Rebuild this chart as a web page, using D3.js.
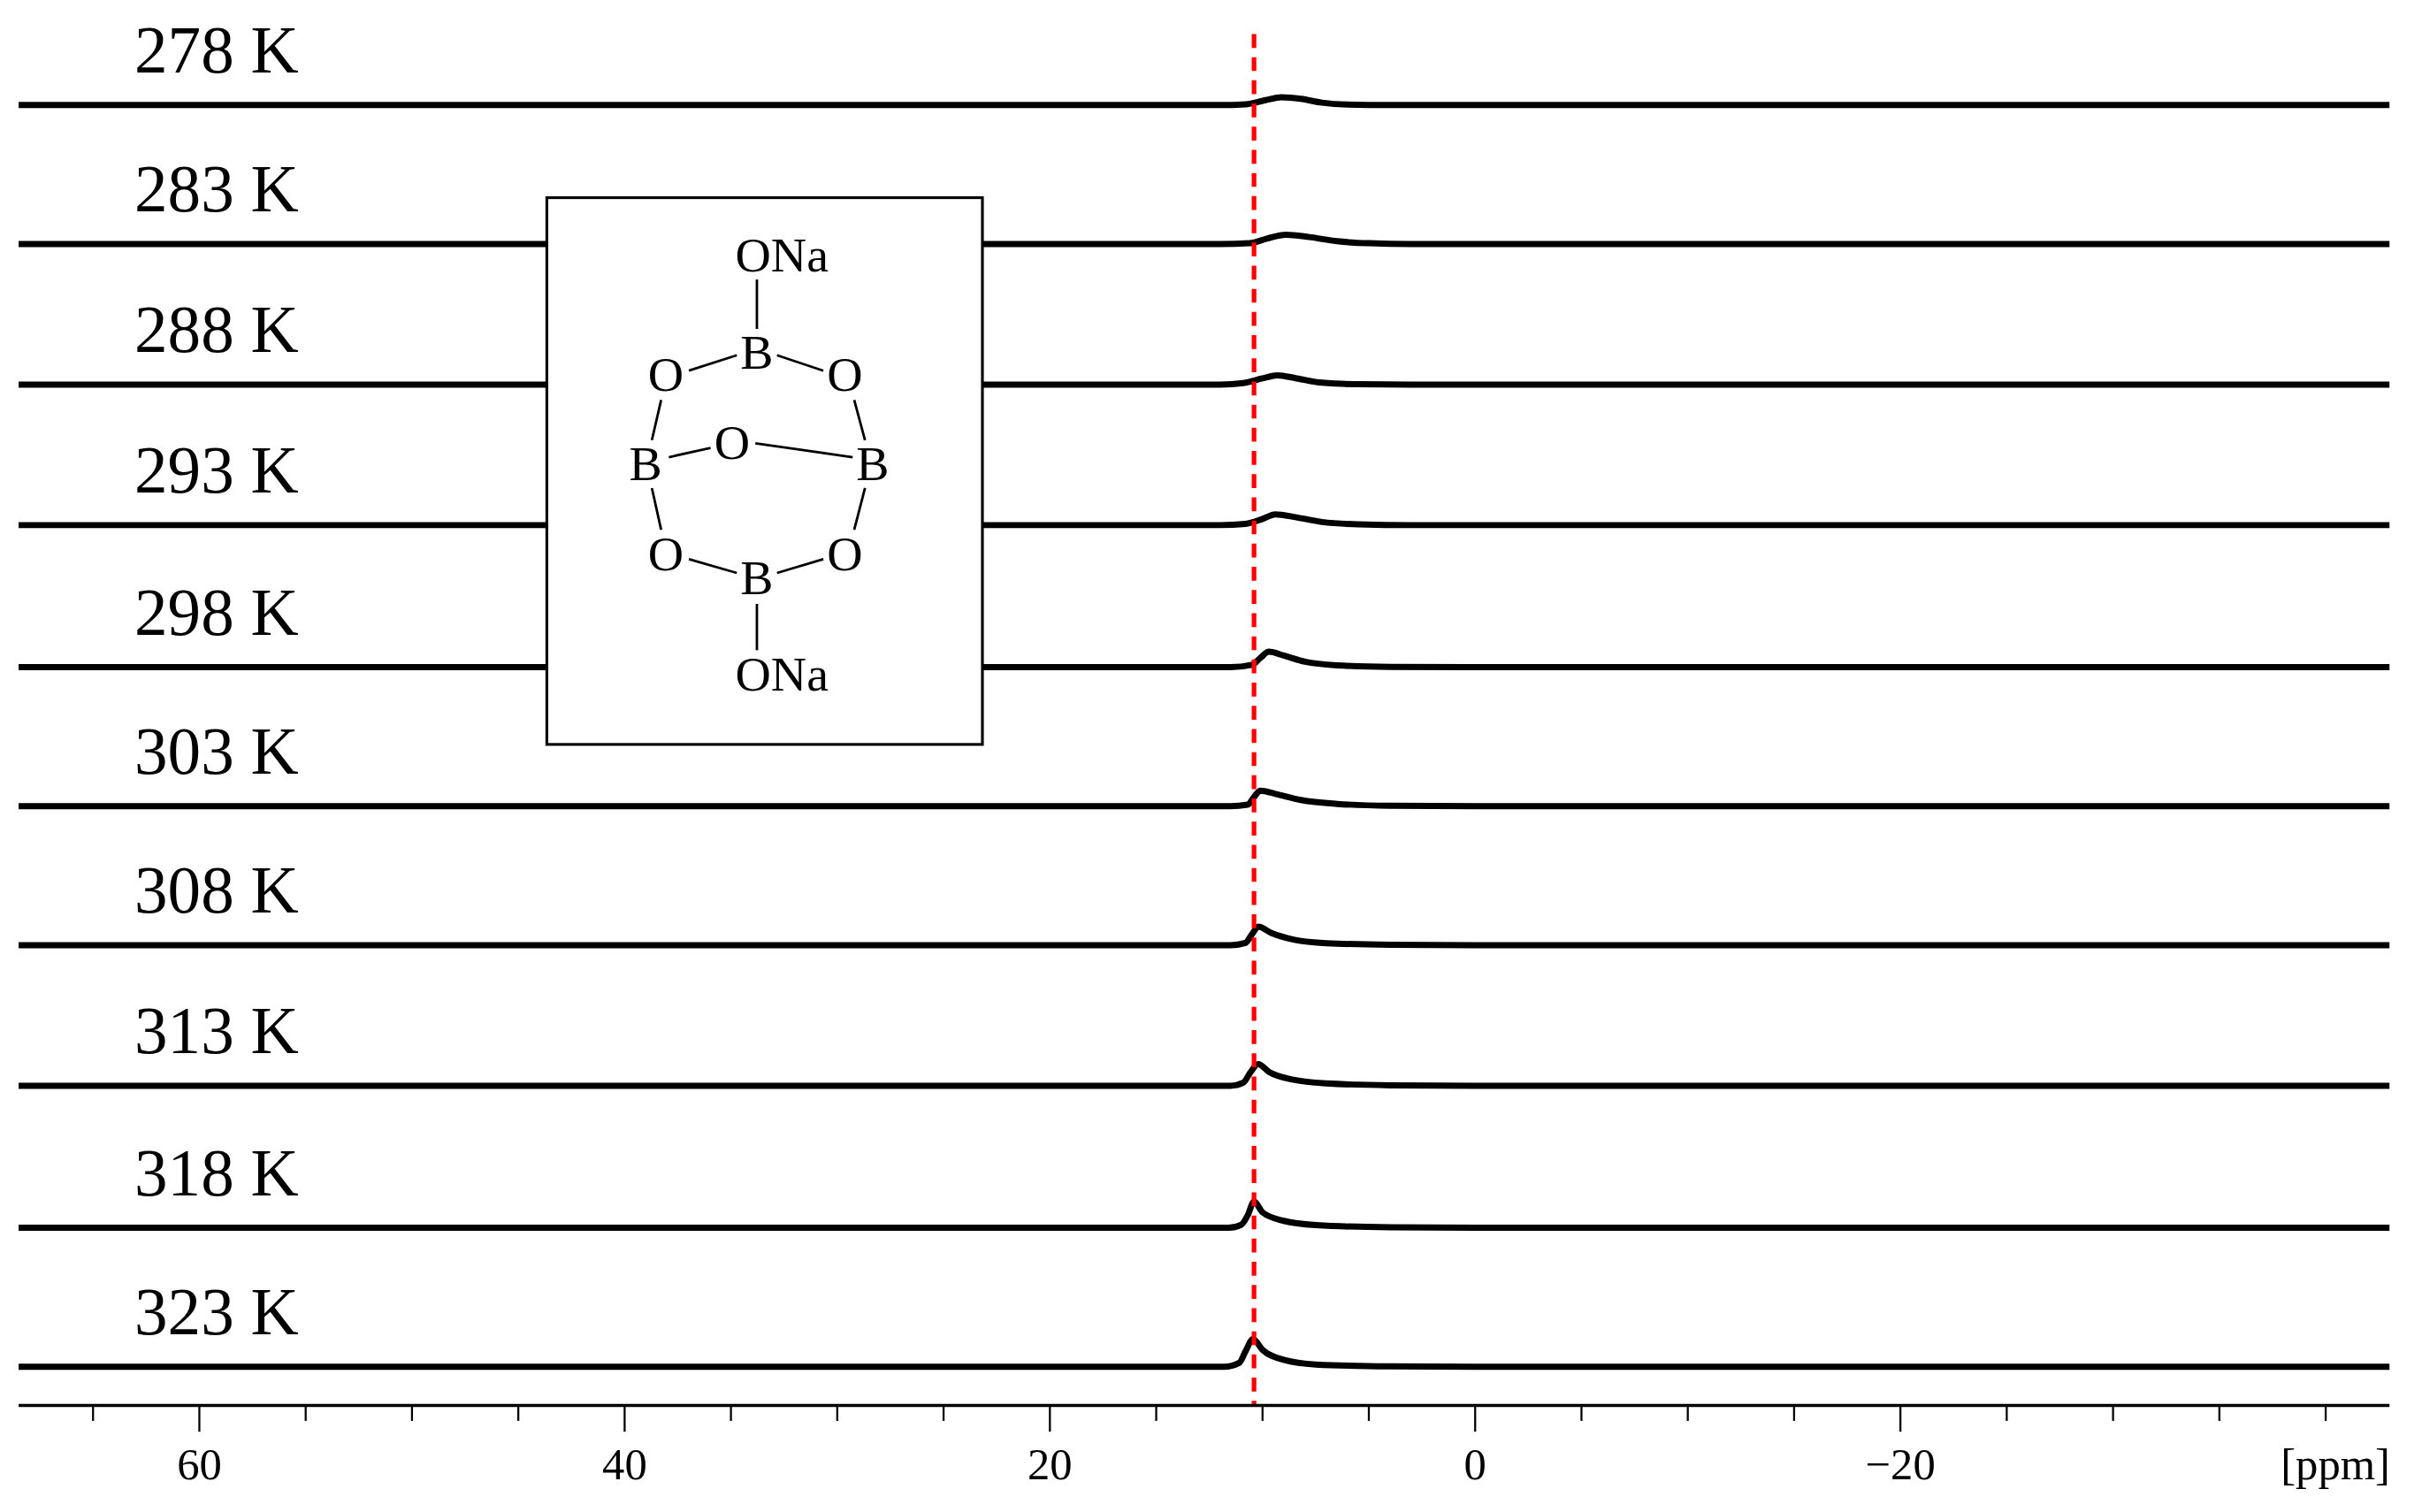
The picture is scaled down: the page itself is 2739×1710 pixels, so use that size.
<!DOCTYPE html>
<html>
<head>
<meta charset="utf-8">
<script src="https://cdn.jsdelivr.net/npm/d3@7"></script>
<style>
  body { margin: 0; background: #fff; }
  text { font-family: "Liberation Serif", "Times New Roman", serif; }
</style>
</head>
<body>
<svg id="chart"></svg>
<script>
// temperatures, top to bottom
var temps = ["278 K", "283 K", "288 K", "293 K", "298 K", "303 K", "308 K", "313 K", "318 K", "323 K"];

// each trace: [ppm, intensity] points (baseline + peak)
var trace278 = [[68.5, 0], [12, 0], [10.8, 0.5], [9.9, 3], [9.1, 5], [8.2, 4], [7.2, 1.5], [6, 0.3], [4, 0], [-43, 0]];
var trace283 = [[68.5, 0], [12, 0], [10.6, 0.5], [9.8, 3.5], [8.9, 6], [7.8, 4.5], [6.5, 1.8], [5, 0.5], [3, 0], [-43, 0]];
var trace288 = [[68.5, 0], [12, 0], [10.9, 1], [10, 4], [9.3, 6], [8.4, 4], [7.2, 1.2], [5.5, 0.2], [3, 0], [-43, 0]];
var trace293 = [[68.5, 0], [12, 0], [10.8, 0.8], [10, 4], [9.4, 7], [8.4, 5], [7.2, 2], [5.5, 0.5], [3, 0], [-43, 0]];
var trace298 = [[68.5, 0], [11.5, 0], [10.5, 1.5], [10.1, 6], [9.7, 10], [9, 7.5], [8, 3.5], [6.5, 1.2], [4, 0.2], [0, 0], [-43, 0]];
var trace303 = [[68.5, 0], [11.5, 0], [10.7, 1], [10.4, 6], [10.1, 10], [9.4, 8], [8.2, 4], [6.5, 1.5], [4, 0.3], [0, 0], [-43, 0]];
var trace308 = [[68.5, 0], [11.5, 0], [10.8, 1.5], [10.5, 7], [10.2, 12], [9.6, 8], [8.5, 3.5], [7, 1.3], [4, 0.3], [0, 0], [-43, 0]];
var trace313 = [[68.5, 0], [11.5, 0], [10.9, 2], [10.6, 8], [10.2, 14], [9.7, 9], [8.6, 4], [7, 1.5], [4, 0.3], [0, 0], [-43, 0]];
var trace318 = [[68.5, 0], [11.6, 0], [11, 2], [10.7, 8], [10.4, 17], [10, 10], [9, 4.5], [7.5, 1.8], [4, 0.3], [0, 0], [-43, 0]];
var trace323 = [[68.5, 0], [11.8, 0], [11.1, 2.5], [10.8, 10], [10.45, 18], [10, 11], [9, 4.5], [7.5, 1.5], [4, 0.3], [0, 0], [-43, 0]];
var traces = [trace278, trace283, trace288, trace293, trace298, trace303, trace308, trace313, trace318, trace323];

var majorTicks = [60, 40, 20, 0, -20];
var minorTicks = [65, 55, 50, 45, 35, 30, 25, 15, 10, 5, -5, -10, -15, -25, -30, -35, -40];
var refShift = 10.4;

var W = 1568, H = 979;
var svg = d3.select("#chart")
  .attr("width", 2739).attr("height", 1710)
  .attr("viewBox", "0 0 " + W + " " + H);

var x = d3.scaleLinear().domain([68.5, -43]).range([12, 1547]);
var baselines = [68, 158, 249, 340, 432, 522, 612, 703, 795, 885];
var yInt = d3.scaleLinear().domain([0, 10]).range([0, 10]);

var line = d3.line()
  .x(function (d) { return x(d[0]); })
  .curve(d3.curveMonotoneX);

// spectra
for (var i = 0; i < traces.length; i++) {
  var base = baselines[i];
  line.y(function (d) { return base - yInt(d[1]); });
  svg.append("path")
    .attr("d", line(traces[i]))
    .attr("fill", "none")
    .attr("stroke", "#000")
    .attr("stroke-width", 4)
    .attr("stroke-linejoin", "round");
  svg.append("text")
    .attr("x", 87).attr("y", base - 21)
    .attr("font-size", 43)
    .text(temps[i]);
}

// inset with structure
var inset = svg.append("g");
inset.append("rect")
  .attr("x", 354).attr("y", 128).attr("width", 282).attr("height", 354)
  .attr("fill", "#fff").attr("stroke", "#000").attr("stroke-width", 1.8);

var atoms = [["ONa", 476, 176, "start"], ["B", 490, 239, "middle"], ["O", 431, 253, "middle"], ["O", 547, 253, "middle"],
  ["B", 418, 311, "middle"], ["O", 474, 297, "middle"], ["B", 565, 311, "middle"],
  ["O", 431, 369, "middle"], ["O", 547, 369, "middle"], ["B", 490, 385, "middle"], ["ONa", 476, 447, "start"]];
atoms.forEach(function (a) {
  inset.append("text").attr("x", a[1]).attr("y", a[2]).attr("text-anchor", a[3])
    .attr("font-size", 32).text(a[0]);
});
var bonds = [[490, 181, 490, 213], [446, 240, 477, 230], [503, 230, 533, 240], [428, 259, 422, 285],
  [553, 259, 560, 285], [433, 296, 460, 290], [489, 287, 552, 296], [422, 316, 428, 343],
  [560, 316, 553, 343], [446, 362, 477, 371], [503, 371, 533, 362], [490, 391, 490, 421]];
bonds.forEach(function (b) {
  inset.append("line").attr("x1", b[0]).attr("y1", b[1]).attr("x2", b[2]).attr("y2", b[3])
    .attr("stroke", "#000").attr("stroke-width", 1.6);
});

// reference line
svg.append("line")
  .attr("x1", x(refShift)).attr("x2", x(refShift))
  .attr("y1", 22).attr("y2", 910)
  .attr("stroke", "#ff0000").attr("stroke-width", 3)
  .attr("stroke-dasharray", "9,6");

// axis
var axis = svg.append("g").attr("transform", "translate(0,910)");
axis.append("line").attr("x1", 12).attr("x2", 1547).attr("stroke", "#000").attr("stroke-width", 2);
axis.selectAll(".major").data(majorTicks).enter().append("line")
  .attr("x1", function (d) { return x(d); }).attr("x2", function (d) { return x(d); })
  .attr("y1", 0).attr("y2", 17).attr("stroke", "#000").attr("stroke-width", 1.3);
axis.selectAll(".minor").data(minorTicks).enter().append("line")
  .attr("x1", function (d) { return x(d); }).attr("x2", function (d) { return x(d); })
  .attr("y1", 0).attr("y2", 10).attr("stroke", "#000").attr("stroke-width", 1.3);
axis.selectAll(".lbl").data(majorTicks).enter().append("text")
  .attr("x", function (d) { return x(d); }).attr("y", 48)
  .attr("text-anchor", "middle").attr("font-size", 29)
  .text(function (d) { return d < 0 ? "\u2212" + (-d) : d; });
axis.append("text").attr("x", 1512).attr("y", 48).attr("text-anchor", "middle")
  .attr("font-size", 29).text("[ppm]");
</script>
</body>
</html>
